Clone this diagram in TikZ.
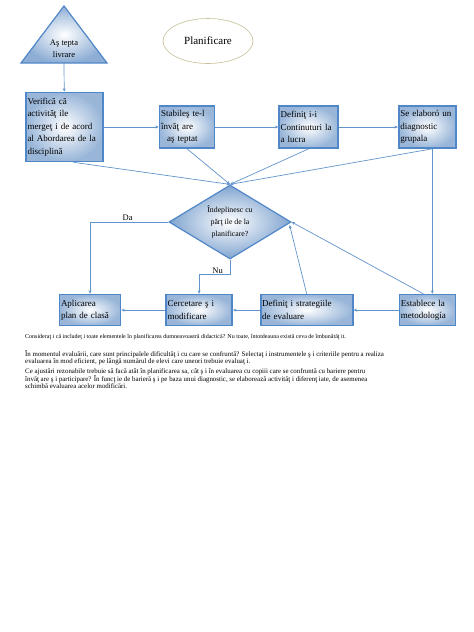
\documentclass[tikz,border=0pt]{standalone}
\usepackage{fontspec}
\setmainfont{Liberation Serif}
\usepackage{xcolor}
\usepackage{tikz}
\usetikzlibrary{positioning,shapes.geometric,arrows.meta}

\definecolor{boxblue}{RGB}{79,129,189}
\definecolor{boxedge}{RGB}{80,135,200}
\definecolor{lineblue}{RGB}{98,148,204}
\definecolor{ovaledge}{RGB}{196,189,151}

\begin{document}
\begin{tikzpicture}[x=1pt,y=-1pt,
box/.style={draw=boxedge,line width=1.6pt,rectangle,shade,inner color=white,outer color=boxblue!58,
    align=left,inner sep=1.5pt,font=\fontsize{9}{12.5}\selectfont},
arr/.style={draw=lineblue,line width=0.7pt,-{Stealth[length=3.5pt,width=3pt]}},
lbl/.style={inner sep=1pt,font=\fontsize{8.5}{10}\selectfont},
txt/.style={anchor=north west,inner sep=0pt,align=left}]
\useasboundingbox (0,0) rectangle (474,632);

\shadedraw [draw=boxedge,line width=1.2pt,inner color=white,outer color=boxblue!65]
    (64,6) -- (107,63) -- (21,63) -- cycle;
\node (livrare) [align=center,font=\fontsize{8.5}{12}\selectfont] at (64,49) {Aş tepta\\livrare};
\coordinate (livbase) at (64,63);

\node (plan) [ellipse,draw=ovaledge,line width=0.6pt,minimum width=90pt,minimum height=45pt,
    font=\fontsize{11}{13}\selectfont] at (208,41) {Planificare};

\node (verif) [box,text width=74pt,minimum height=69pt] at (64.5,127)
    {Verifică că\\activităţ ile\\mergeţ i de acord\\al Abordarea de la\\disciplină};
\node (stabil) [box,text width=52pt,minimum height=42pt,right=55pt of verif]
    {Stabileş te-l\\învăţ are\\\hspace*{6pt}aş teptat};
\node (contin) [box,text width=56pt,minimum height=42pt,right=63pt of stabil]
    {Definiţ i-i\\Continuturi la\\a lucra};
\node (diagn) [box,text width=54pt,minimum height=42pt,right=59pt of contin]
    {Se elaboró un\\diagnostic\\grupala};

\node (indepl) [diamond,draw=boxedge,line width=1.2pt,shade,inner color=white,outer color=boxblue!72,
    aspect=1.65,inner sep=0pt,minimum width=122pt,minimum height=74pt,align=center,
    font=\fontsize{7.8}{12}\selectfont] at (230,222)
    {Îndeplinesc cu\\părţ ile de la\\planificare?};

\node (estab) [box,text width=53pt,minimum height=31pt,below=145pt of diagn]
    {Establece la\\metodología};
\node (strat) [box,text width=89pt,minimum height=31pt,left=45pt of estab]
    {Definiţ i strategiile\\de evaluare};
\node (cercet) [box,text width=63pt,minimum height=31pt,left=27pt of strat]
    {Cercetare ş i\\modificare};
\node (aplic) [box,text width=58pt,minimum height=31pt,left=44pt of cercet]
    {Aplicarea\\plan de clasă};

\draw[arr] (livbase) -- (verif);
\draw[arr] (verif) -- (stabil);
\draw[arr] (stabil) -- (contin);
\draw[arr] (contin) -- (diagn);

\draw[arr] ([xshift=9pt]verif.south) -- (indepl.north);
\draw[arr] (stabil.south) -- (indepl.north);
\draw[arr] (contin.south) -- (indepl.north);
\draw[arr] ([xshift=5pt]diagn.south) -- (indepl.north);
\draw[arr] ([xshift=5pt]diagn.south) -- ([xshift=5pt]estab.north);

\draw[arr] (estab) -- (strat);
\draw[arr] (strat) -- (cercet);
\draw[arr] (cercet) -- (aplic);
\draw[arr] ([xshift=-4pt]estab.north) -- (indepl.east);
\draw[arr] (strat.north) -- ([xshift=-2pt,yshift=-3pt]indepl.east);

\draw[arr] (indepl.west) -| node (da) [lbl,pos=.26,above] {Da} (aplic.north);
\draw[arr] (indepl.south) -- ++(0,15) -| node (nu) [lbl,pos=.2,above] {Nu} (cercet.north);

\node (intreb1) [txt,font=\fontsize{6}{7}\selectfont] at (25,334)
    {Consideraţ i că includeţ i toate elementele în planificarea dumneavoastră didactică? Nu toate, întotdeauna există ceva de îmbunătăţ it.};
\node (intreb2) [txt,font=\fontsize{6.9}{7}\selectfont] at (25,350)
    {În momentul evaluării, care sunt principalele dificultăţ i cu care se confruntă? Selectaţ i instrumentele ş i criteriile pentru a realiza\\
     evaluarea în mod eficient, pe lângă numărul de elevi care uneori trebuie evaluaţ i.};
\node (intreb3) [txt,font=\fontsize{6.9}{7}\selectfont] at (25,368)
    {Ce ajustări rezonabile trebuie să facă atât în planificarea sa, cât ş i în evaluarea cu copiii care se confruntă cu bariere pentru\\
     învăţ are ş i participare? În funcţ ie de barieră ş i pe baza unui diagnostic, se elaborează activităţ i diferenţ iate, de asemenea\\
     schimbă evaluarea acelor modificări.};
\end{tikzpicture}
\end{document}
